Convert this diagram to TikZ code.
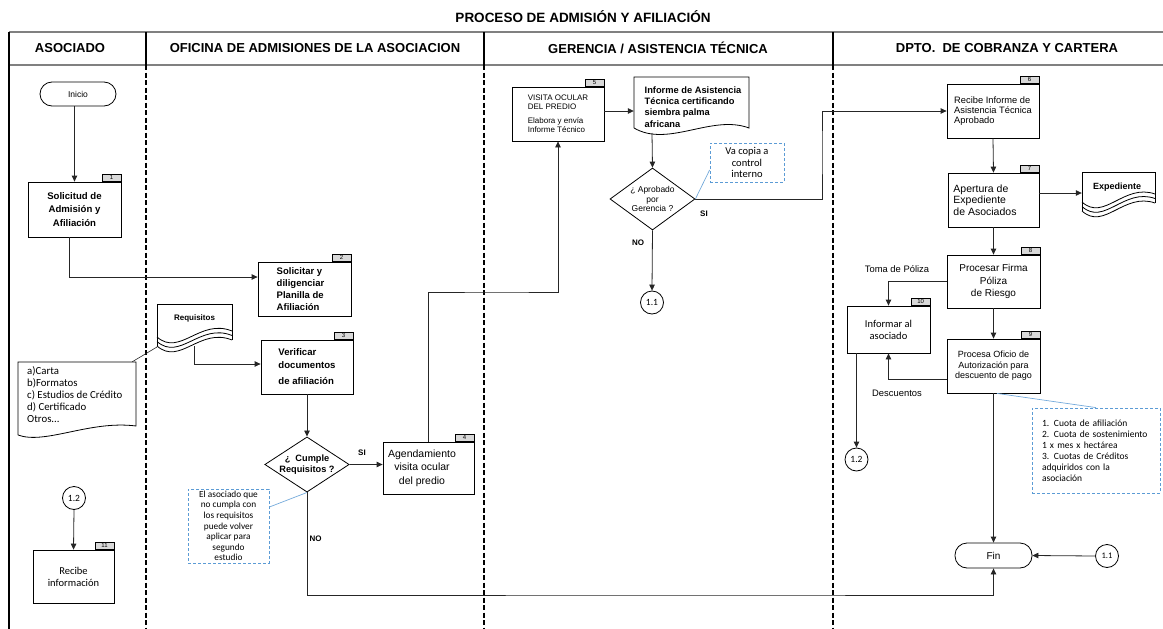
\documentclass[tikz,border=0pt]{standalone}
\usepackage{fontspec}
\setmainfont{Liberation Sans}
\newfontfamily\calfont{Carlito}
\usetikzlibrary{arrows.meta,shapes.geometric,calc}

\definecolor{notecol}{RGB}{91,155,213}
\definecolor{rulegray}{RGB}{128,128,128}
\definecolor{tabfill}{RGB}{217,217,217}
\newcommand\fs[2]{\fontsize{#1}{#2}\selectfont}

\begin{document}
\begin{tikzpicture}[x=1pt,y=-1pt,
  box/.style={draw, line width=0.8pt, rectangle, inner sep=1pt, align=center},
  tabbox/.style={draw, line width=0.6pt, fill=tabfill, minimum width=19pt, minimum height=7.5pt, inner sep=0pt, anchor=south east, font=\fs{6}{6}},
  term/.style={draw, line width=0.8pt, rounded corners=12pt, inner sep=0pt},
  dec/.style={draw, line width=0.8pt, shape=diamond, inner sep=0pt, align=center},
  conn/.style={draw=black!85, line width=0.8pt, -{Triangle[length=6pt,width=5.5pt]}},
  link/.style={draw=black!85, line width=0.8pt},
  note/.style={draw=notecol, line width=0.8pt, dash pattern=on 3pt off 2pt, inner sep=0pt},
  noteline/.style={draw=notecol!85, line width=0.7pt},
  ring/.style={draw, circle, line width=0.8pt, minimum size=23pt, inner sep=0pt, font=\calfont\fs{9.5}{10}},
  lbl/.style={font=\bfseries\fs{8}{9}},
  head/.style={font=\bfseries\fs{13}{14}},
  lane/.style={line width=1.6pt, dash pattern=on 5pt off 2.5pt},
  shapebox/.style={inner sep=0pt, draw=none},
]
\useasboundingbox (0,0) rectangle (1163,629);

% title and swimlane frame
\node[font=\bfseries\fs{13.5}{15}] (title) at (583,17) {PROCESO DE ADMISIÓN Y AFILIACIÓN};
\draw[rulegray, line width=1.5pt] (9,32) -- (1163,32);
\draw[rulegray, line width=1.2pt] (9,65) -- (1163,65);
\draw[line width=1.5pt] (9,32) -- (9,629);
\foreach \lx in {146,484,833} {
  \draw[line width=1.6pt] (\lx,32) -- (\lx,65);
  \draw[lane] (\lx,65) -- (\lx,629);
}
\node[head] (h1) at (70,48) {ASOCIADO};
\node[head] (h2) at (315,48) {OFICINA DE ADMISIONES DE LA ASOCIACION};
\node[head] (h3) at (658,48) {GERENCIA / ASISTENCIA TÉCNICA};
\node[head] (h4) at (1007,48) {DPTO.\ \ DE COBRANZA Y CARTERA};

% ---- lane: asociado
\node[term, minimum width=76pt, minimum height=24pt, font=\fs{8.5}{9}] (ini) at (78,94) {Inicio};
\node[box, minimum width=93pt, minimum height=55pt, font=\bfseries\fs{9.6}{13.5}] (b1) at (74.5,209.5) {Solicitud de\\Admisión y\\Afiliación};
\node[tabbox] (t1) at (b1.north east) {1};

% requirement list (document shape)
\node[shapebox, minimum width=118pt, minimum height=64pt] (notea) at (77,394) {};
\draw[line width=0.8pt] (18,435) -- (18,362) -- (136,362) -- (136,426)
  .. controls (90,420) and (45,445) .. (18,435);
\node[anchor=west, inner sep=0pt, align=left, font=\calfont\fs{10.8}{12}] (noteatxt) at (27,395)
  {a)Carta\\b)Formatos\\c) Estudios de Crédito\\d) Certificado\\Otros...};

\node[ring] (c12a) at (74,498) {1.2};
\node[box, minimum width=81pt, minimum height=53pt, font=\calfont\fs{10.5}{12}] (b11) at (73.5,576.5) {Recibe\\información};
\node[tabbox] (t11) at (b11.north east) {11};

% ---- lane: oficina de admisiones
\node[box, align=left, minimum width=93pt, minimum height=54pt, font=\bfseries\fs{9.5}{12}] (b2) at (304.5,289) {Solicitar y\\diligenciar\makebox[8pt]{}\\Planilla de\\Afiliación};
\node[tabbox] (t2) at (b2.north east) {2};

% Requisitos (multiple documents)
\node[shapebox, minimum width=75pt, minimum height=42pt] (req) at (194.5,325) {};
\draw[line width=0.8pt] (157,346) -- (157,304) -- (232,304) -- (232,340);
\foreach \d in {0,4.5,9} {
  \draw[line width=0.8pt] (157,337+\d) .. controls (180,357+\d) and (200,318+\d) .. (232,331+\d);
}
\node[font=\bfseries\fs{8}{9}] (reqtxt) at (194.5,318) {Requisitos};
\coordinate (reqout) at (194,346);
\coordinate (reqlink) at (157,347);

\node[box, align=left, minimum width=92pt, minimum height=54pt, font=\bfseries\fs{9.6}{13}] (b3) at (307,367) {Verificar\\documentos\\[3pt]de afiliación};
\node[tabbox] (t3) at (b3.north east) {3};

\node[dec, aspect=1.53, minimum width=84pt, minimum height=55pt, font=\bfseries\fs{9.2}{10.5}] (d1) at (307,464.5) {¿\ \ Cumple\\Requisitos ?};

\node[box, minimum width=91pt, minimum height=52pt, font=\fs{10.5}{13.5}] (b4) at (428.5,468) {Agendamiento\makebox[13pt]{}\\visita ocular\makebox[13pt]{}\\del predio\makebox[13pt]{}};
\node[tabbox] (t4) at (b4.north east) {4};

\node[note, minimum width=81pt, minimum height=74pt, align=center, font=\calfont\fs{9.3}{10.6}] (n1) at (228.5,526) {El asociado que\\no cumpla con\\los requisitos\\puede volver\\aplicar para\\segundo\\estudio};

% ---- lane: gerencia / asistencia tecnica
\node[box, align=left, minimum width=92pt, minimum height=54pt, font=\fs{8}{9}] (b5) at (558,114) {VISITA OCULAR\\DEL PREDIO\\[5pt]Elabora y envía\\Informe Técnico};
\node[tabbox] (t5) at (b5.north east) {5};

\node[shapebox, minimum width=115pt, minimum height=51pt] (inf) at (691.5,102.5) {};
\draw[line width=0.8pt] (634,128) -- (634,77) -- (749,77) -- (749,128)
  .. controls (712,114) and (668,148) .. (634,128);
\node[align=left, inner sep=0pt, font=\bfseries\fs{9.3}{11.3}] (inftxt) at (693,107) {Informe de Asistencia\\Técnica certificando\\siembra palma\\africana};
\coordinate (infout) at (652,133);

\node[dec, aspect=1.37, minimum width=85pt, minimum height=62pt, font=\fs{8.5}{9.2}] (d2) at (652.5,199) {¿ Aprobado\\por\\Gerencia ?};
\node[note, minimum width=74pt, minimum height=39pt, align=center, font=\calfont\fs{10.5}{11.5}] (n2) at (747,162.5) {Va copia a\\control\\interno};
\node[ring] (c11a) at (652,302.5) {1.1};

% ---- lane: cobranza y cartera
\node[box, align=left, minimum width=92pt, minimum height=54pt, font=\fs{9.3}{10}] (b6) at (993,111) {Recibe Informe de\\Asistencia Técnica\\Aprobado};
\node[tabbox] (t6) at (b6.north east) {6};

\node[box, align=left, minimum width=91pt, minimum height=54pt, font=\fs{10.5}{11.5}] (b7) at (993.5,200) {Apertura de\\Expediente\\de Asociados\makebox[17pt]{}};
\node[tabbox] (t7) at (b7.north east) {7};

% Expediente (multiple documents)
\node[shapebox, minimum width=73pt, minimum height=39pt] (exp) at (1118.5,191.5) {};
\draw[line width=0.8pt] (1082,211) -- (1082,172) -- (1155,172) -- (1155,203);
\foreach \d in {0,4.5,9} {
  \draw[line width=0.8pt] (1082,202+\d) .. controls (1104,222+\d) and (1124,183+\d) .. (1155,194+\d);
}
\node[font=\bfseries\fs{9}{10}] (exptxt) at (1117,187) {Expediente};

\node[box, minimum width=93pt, minimum height=53pt, font=\fs{10}{12.5}] (b8) at (993.5,281.5) {Procesar Firma\\Póliza\\de Riesgo};
\node[tabbox] (t8) at (b8.north east) {8};

\node[box, minimum width=93pt, minimum height=54pt, font=\fs{9}{10.5}] (b9) at (993.5,366) {Procesa Oficio de\\Autorización para\\descuento de pago};
\node[tabbox] (t9) at (b9.north east) {9};

\node[box, minimum width=83pt, minimum height=47pt, font=\calfont\fs{10.5}{12}] (b10) at (888.5,329.5) {Informar al\\asociado};
\node[tabbox] (t10) at (b10.north east) {10};

\node[ring] (c12b) at (856.5,459.5) {1.2};
\node[term, minimum width=77pt, minimum height=25pt, font=\fs{10}{11}] (fin) at (993.5,555.5) {Fin};
\node[ring, font=\calfont\fs{8.5}{9}] (c11b) at (1107,556) {1.1};

\node[note, minimum width=128pt, minimum height=85pt, align=left, text width=108pt, inner xsep=10pt, font=\calfont\fs{9.5}{11}] (n3) at (1096,450.5) {1. Cuota de afiliación\\2. Cuota de sostenimiento\\1 x mes x hectárea\\3. Cuotas de Créditos\\adquiridos con la\\asociación};

% flow labels
\node[lbl] (si1) at (362,453) {SI};
\node[lbl] (no1) at (315.5,539) {NO};
\node[lbl] (si2) at (704,214) {SI};
\node[lbl] (no2) at (638,243) {NO};
\node[font=\fs{9.4}{10}] (toma) at (897,269) {Toma de Póliza};
\node[font=\fs{9.4}{10}] (desc) at (897,393) {Descuentos};

% bend points
\coordinate (k1) at (500,292);
\coordinate (k2) at (700,595);
\coordinate (k3) at (822,150);

% connectors
\draw[conn] (b1.north |- ini.south) -- (b1.north);
\draw[conn] ([xshift=-5.5pt]b1.south) |- ([yshift=12pt]b2.west);
\draw[conn] (reqout) |- ([yshift=3pt]b3.west);
\draw[conn] (b3.south) -- (d1.north);
\draw[conn] (d1.east) -- (d1.east -| b4.west);
\draw[conn] (b4.north) |- (k1) -| (b5.south);
\draw[conn] (d1.south) |- (k2) -| (fin.south);
\draw[conn] ([yshift=3pt]b5.east) -- ([yshift=3pt]b5.east -| inf.west);
\draw[conn] (infout) -- (d2.north);
\draw[conn] (d2.east) -| (k3) |- (b6.west);
\draw[conn] (d2.south) -- (c11a.north);
\draw[conn] (b6.south) -- (b7.north);
\draw[conn] ([yshift=7pt]b7.east) -- ([yshift=7pt]b7.east -| exp.west);
\draw[conn] (b7.south) -- (b8.north);
\draw[conn] (b8.west) -| (b10.north);
\draw[conn] (b8.south) -- (b9.north);
\draw[conn] ([yshift=-13pt]b9.west) -| (b10.south);
\draw[conn] (c12b.north |- b10.south) -- (c12b.north);
\draw[conn] (b9.south) -- (fin.north);
\draw[conn] (c11b.west) -- (fin.east);
\draw[conn] (c12a.south) -- (b11.north);

% annotation links
\draw[link, line width=0.6pt] (reqlink) -- ([xshift=-4pt]notea.north east);
\draw[noteline] (d1.south) -- ([yshift=19pt]n1.east);
\draw[noteline] (d2.east) -- ([yshift=-7.5pt]n2.west);
\draw[noteline] ([xshift=3.5pt]b9.south) -- (n3.north);
\end{tikzpicture}
\end{document}
